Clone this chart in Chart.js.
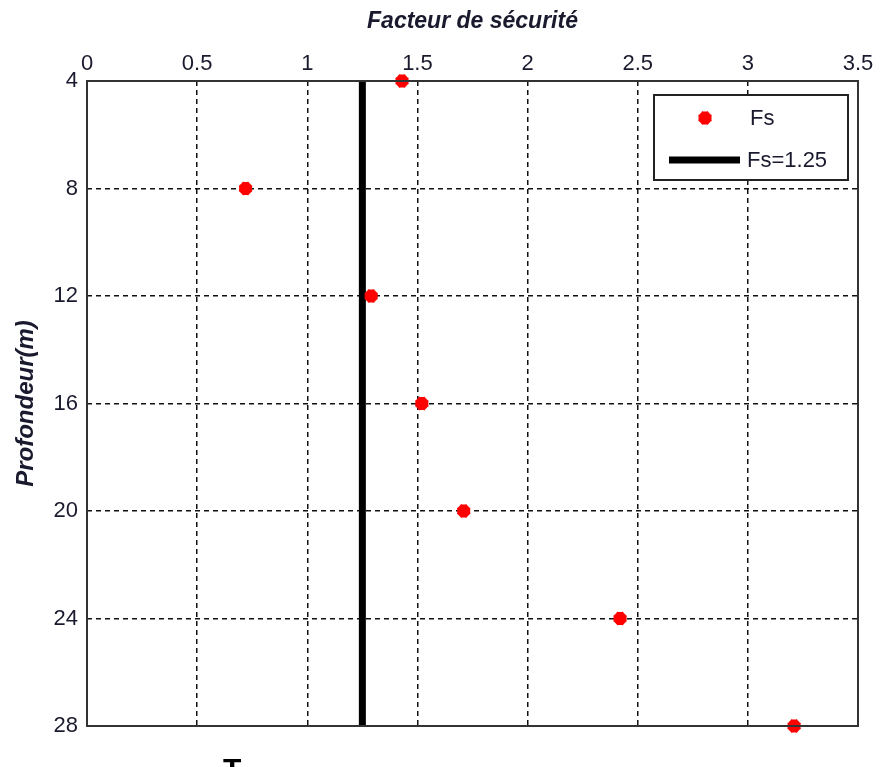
<!DOCTYPE html>
<html>
<head>
<meta charset="utf-8">
<script src="https://cdn.jsdelivr.net/npm/chart.js@4.4.0/dist/chart.umd.min.js"></script>
<style>
  html, body { margin:0; padding:0; background:#fff; overflow:hidden; }
  #wrap { position:relative; width:881px; height:767px; }
  #bas { position:absolute; left:223px; top:752px; font:bold 30px "Liberation Sans", Arial, sans-serif; color:#000; }
</style>
</head>
<body>
<div id="wrap">
  <canvas id="graphe" width="881" height="767"></canvas>
  <div id="bas">T</div>
</div>
<script>
// donnees
const profondeurs = [4, 8, 12, 16, 20, 24, 28];
const facteurs = [1.43, 0.72, 1.29, 1.52, 1.71, 2.42, 3.21];
const seuil = 1.25;
const ticksX = [0, 0.5, 1, 1.5, 2, 2.5, 3, 3.5];
const ticksY = [4, 8, 12, 16, 20, 24, 28];

const police = '"Liberation Sans", Arial, sans-serif';

let points = profondeurs.map(function(p, i) {
  return { x: facteurs[i], y: p };
});
let ligneSeuil = [
  { x: seuil, y: profondeurs[0] },
  { x: seuil, y: profondeurs[profondeurs.length - 1] }
];

// cadre complet + legende dans la zone du graphe
const cadre = {
  id: 'cadre',
  afterDatasetsDraw(chart) {
    const ctx = chart.ctx;
    const a = chart.chartArea;
    ctx.save();
    ctx.strokeStyle = '#333';
    ctx.lineWidth = 2;
    ctx.setLineDash([]);
    ctx.strokeRect(a.left, a.top, a.right - a.left, a.bottom - a.top);

    // legende
    const bx = a.right - 204, by = a.top + 14, bw = 194, bh = 85;
    ctx.fillStyle = '#fff';
    ctx.fillRect(bx, by, bw, bh);
    ctx.strokeStyle = '#222';
    ctx.lineWidth = 2;
    ctx.strokeRect(bx, by, bw, bh);

    const ds = chart.data.datasets;

    // Fs
    ctx.strokeStyle = ds[0].borderColor;
    ctx.fillStyle = ds[0].backgroundColor;
    ctx.lineWidth = ds[0].borderWidth;
    Chart.helpers.drawPoint(ctx, {
      pointStyle: ds[0].pointStyle, radius: ds[0].radius, borderWidth: ds[0].borderWidth
    }, bx + 51, by + 23);

    ctx.font = '22px ' + police;
    ctx.textBaseline = 'middle';
    ctx.fillStyle = '#1a1a2e';
    ctx.fillText(ds[0].label, bx + 96, by + 24);

    // Fs=1.25
    ctx.strokeStyle = ds[1].borderColor;
    ctx.lineWidth = 7;
    ctx.beginPath();
    ctx.moveTo(bx + 15, by + 65);
    ctx.lineTo(bx + 86, by + 65);
    ctx.stroke();
    ctx.fillText(ds[1].label, bx + 93, by + 66);
    ctx.restore();
  }
};

new Chart(document.getElementById('graphe'), {
  type: 'scatter',
  data: {
    datasets: [
      {
        label: 'Fs',
        data: points,
        pointStyle: 'star',
        radius: 6.5,
        borderWidth: 6.5,
        borderColor: '#ff0000',
        backgroundColor: '#ff0000',
        clip: false,
        order: 1
      },
      {
        label: 'Fs=1.25',
        type: 'line',
        data: ligneSeuil,
        borderColor: '#000',
        borderWidth: 7,
        pointRadius: 0,
        fill: false,
        order: 2
      }
    ]
  },
  options: {
    responsive: false,
    animation: false,
    layout: { padding: { left: 0, right: 23, top: 0, bottom: 41 } },
    plugins: { legend: { display: false }, tooltip: { enabled: false } },
    scales: {
      x: {
        position: 'top',
        min: 0, max: 3.5,
        afterBuildTicks: function(s) { s.ticks = ticksX.map(v => ({ value: v })); },
        afterFit: function(s) { s.height = 81; },
        ticks: {
          color: '#1a1a2e', padding: 4,
          font: { family: police, size: 22 },
          maxRotation: 0,
          callback: function(v) { return String(v); }
        },
        grid: { color: '#111', lineWidth: 1.5, drawTicks: false },
        border: { display: false, dash: [5, 4] },
        title: {
          display: true, text: 'Facteur de sécurité', color: '#1a1a2e',
          font: { family: police, size: 23, style: 'italic', weight: 'bold' },
          padding: { top: 8, bottom: 0 }
        }
      },
      y: {
        reverse: true,
        min: 4, max: 28,
        afterBuildTicks: function(s) { s.ticks = ticksY.map(v => ({ value: v })); },
        afterFit: function(s) { s.width = 87; },
        ticks: {
          color: '#1a1a2e', padding: 9,
          font: { family: police, size: 22 },
          callback: function(v) { return String(v); }
        },
        grid: { color: '#111', lineWidth: 1.5, drawTicks: false },
        border: { display: false, dash: [5, 4] },
        title: {
          display: true, text: 'Profondeur(m)', color: '#1a1a2e',
          font: { family: police, size: 24, style: 'italic', weight: 'bold' },
          padding: { top: 12, bottom: 0 }
        }
      }
    }
  },
  plugins: [cadre]
});
</script>
</body>
</html>
